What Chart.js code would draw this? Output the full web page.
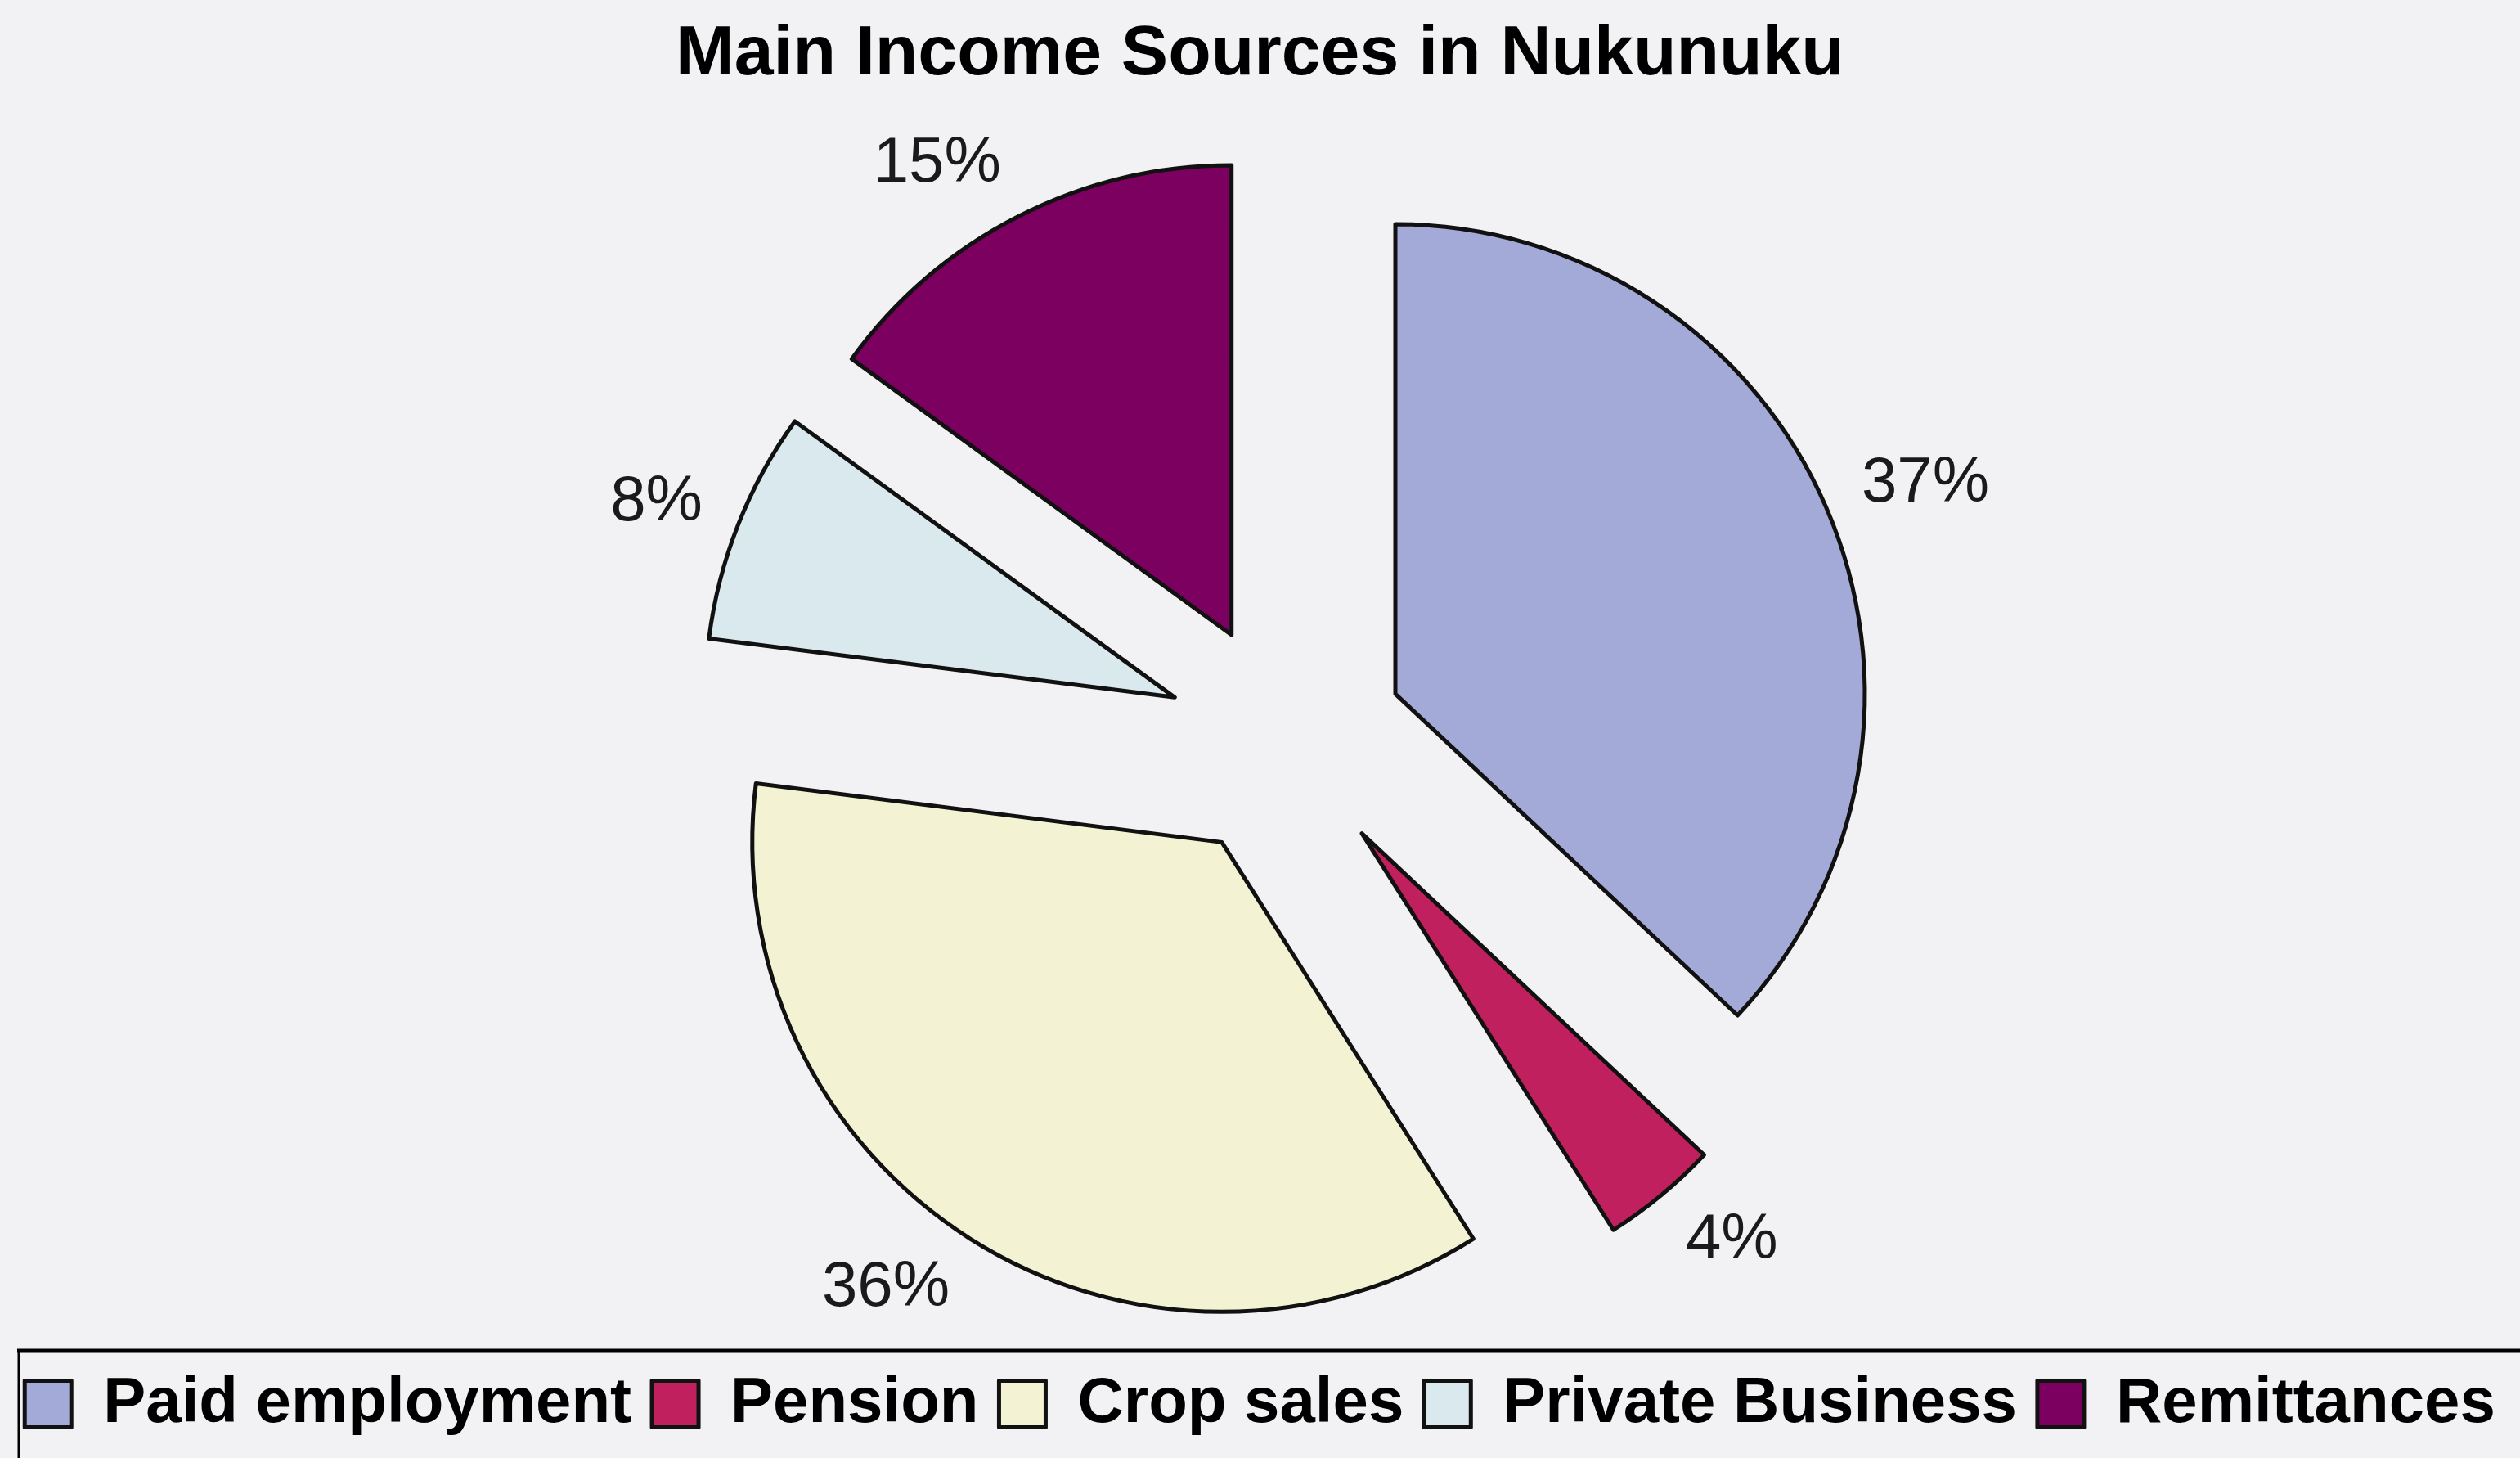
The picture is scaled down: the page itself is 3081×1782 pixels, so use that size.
<!DOCTYPE html>
<html>
<head>
<meta charset="utf-8">
<title>Main Income Sources in Nukunuku</title>
<script src="https://cdn.jsdelivr.net/npm/chart.js@4.4.1/dist/chart.umd.min.js"></script>
<style>
  html, body { margin: 0; padding: 0; background: #f2f2f5; }
  #wrap { width: 3081px; height: 1782px; position: relative; }
</style>
</head>
<body>
<div id="wrap"><canvas id="chart"></canvas></div>
<script>
// Main income sources, share of households (%)
const categories = ['Paid employment', 'Pension', 'Crop sales', 'Private Business', 'Remittances'];
const shares = [37, 4, 36, 8, 15];
const sliceColors = ['#a3aad8', '#c0205e', '#f3f3d3', '#d9e9ee', '#7c0060'];
const chartTitle = 'Main Income Sources in Nukunuku';

const FONT = "'Liberation Sans', Arial, Helvetica, sans-serif";
const EXPLODE = 146;    // how far each slice is pulled out along its bisector
const LABEL_GAP_X = 47; // horizontal reach of a value label beyond the rim
const LABEL_GAP_Y = 72; // vertical reach of a value label beyond the rim
const GUTTER = 63;      // empty strip on the left that nudges the pie to the right

// Reserve a strip on the left of the plot area (keeps title/legend full width)
const pieGutter = {
  id: 'pieGutter',
  beforeInit(chart) {
    Chart.layouts.addBox(chart, {
      position: 'left', fullSize: false, weight: 0, options: {},
      left: 0, top: 0, right: 0, bottom: 0, width: 0, height: 0,
      isHorizontal() { return false; },
      update(maxWidth, maxHeight) { this.width = GUTTER; this.height = maxHeight; },
      draw() {}
    });
  }
};

// Paper-coloured background
const paper = {
  id: 'paper',
  beforeDraw(chart) {
    const ctx = chart.ctx;
    ctx.save();
    ctx.fillStyle = '#f2f2f5';
    ctx.fillRect(0, 0, chart.width, chart.height);
    ctx.restore();
  }
};

// Draw every slice shifted straight out along its bisector
const explodedSlices = {
  id: 'explodedSlices',
  beforeDatasetDraw(chart, args) {
    const ctx = chart.ctx;
    args.meta.data.forEach(arc => {
      const mid = (arc.startAngle + arc.endAngle) / 2;
      ctx.save();
      ctx.translate(Math.cos(mid) * EXPLODE, Math.sin(mid) * EXPLODE);
      arc.draw(ctx);
      ctx.restore();
    });
    return false;
  }
};

// Percentage labels outside each slice, text turned away from the pie
const valueLabels = {
  id: 'valueLabels',
  afterDatasetsDraw(chart) {
    const ctx = chart.ctx;
    const meta = chart.getDatasetMeta(0);
    const values = chart.data.datasets[0].data;
    ctx.save();
    ctx.font = '78px ' + FONT;
    ctx.fillStyle = '#1a1a1a';
    ctx.textBaseline = 'middle';
    meta.data.forEach((arc, i) => {
      const mid = (arc.startAngle + arc.endAngle) / 2;
      const ux = Math.cos(mid), uy = Math.sin(mid);
      const ax = arc.x + ux * EXPLODE, ay = arc.y + uy * EXPLODE;
      const x = ax + ux * (arc.outerRadius + LABEL_GAP_X);
      const y = ay + uy * (arc.outerRadius + LABEL_GAP_Y);
      ctx.textAlign = ux >= 0 ? 'left' : 'right';
      ctx.fillText(values[i] + '%', x, y);
    });
    ctx.restore();
  }
};

// Frame line above and to the left of the legend
const legendFrame = {
  id: 'legendFrame',
  afterDraw(chart) {
    const lg = chart.legend;
    const ctx = chart.ctx;
    const y = lg.top - 1;
    ctx.save();
    ctx.strokeStyle = '#000';
    ctx.lineWidth = 5;
    ctx.beginPath();
    ctx.moveTo(21, y);
    ctx.lineTo(chart.width, y);
    ctx.stroke();
    ctx.lineWidth = 3;
    ctx.beginPath();
    ctx.moveTo(23, y);
    ctx.lineTo(23, chart.height);
    ctx.stroke();
    ctx.restore();
  }
};

new Chart(document.getElementById('chart'), {
  type: 'pie',
  data: {
    labels: categories,
    datasets: [{
      data: shares,
      backgroundColor: sliceColors,
      borderColor: '#111111',
      borderWidth: 5,
      borderJoinStyle: 'round'
    }]
  },
  options: {
    responsive: true,
    maintainAspectRatio: false,
    animation: false,
    events: [],
    radius: 574,
    layout: { padding: { bottom: 17 } },
    plugins: {
      title: {
        display: true,
        text: chartTitle,
        color: '#000',
        font: { family: FONT, size: 86, weight: 'bold', lineHeight: 1.2 },
        padding: { top: 16, bottom: 41 }
      },
      legend: {
        position: 'bottom',
        labels: {
          boxWidth: 57,
          boxHeight: 57,
          padding: 25,
          color: '#000',
          font: { family: FONT, size: 78, weight: 'bold' }
        }
      },
      tooltip: { enabled: false }
    }
  },
  plugins: [pieGutter, paper, explodedSlices, valueLabels, legendFrame]
});
</script>
</body>
</html>
